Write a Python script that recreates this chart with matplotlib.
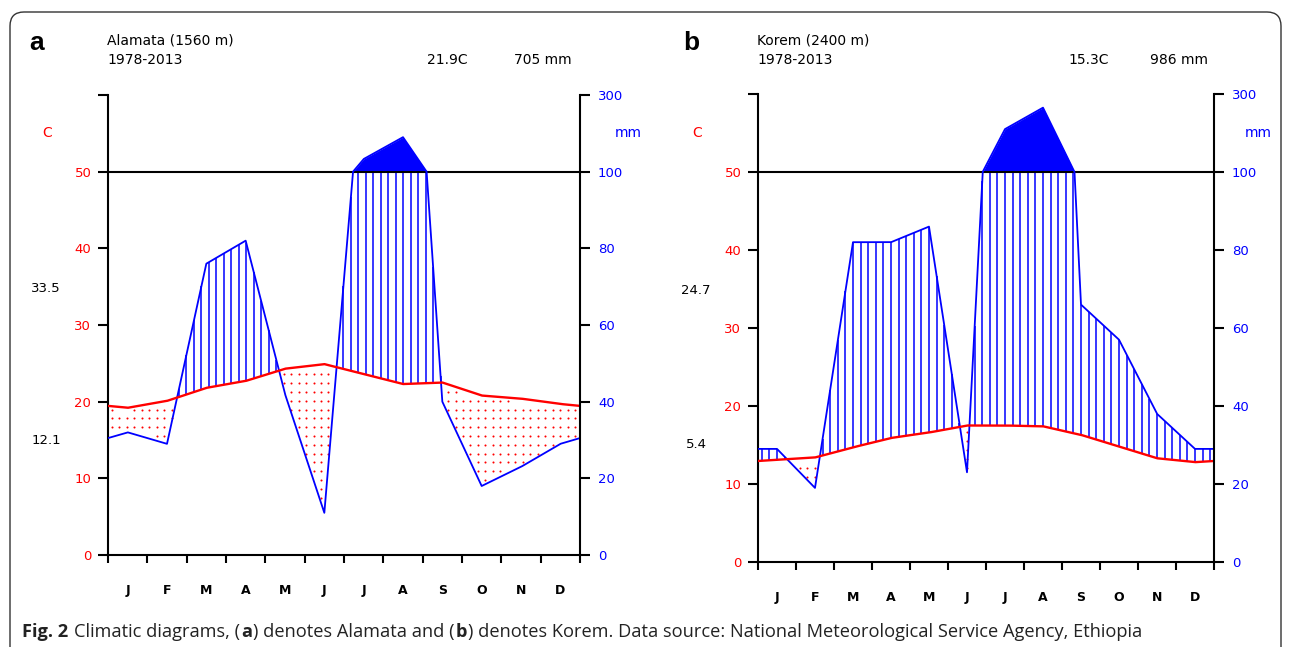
import numpy as np
import matplotlib
matplotlib.use("Agg")
import matplotlib.pyplot as plt
from matplotlib import font_manager
from matplotlib.patches import FancyBboxPatch
from matplotlib.transforms import IdentityTransform

W, H = 1292, 647
RED = "#ff0000"
BLUE = "#0000ff"

months = ["J", "F", "M", "A", "M", "J", "J", "A", "S", "O", "N", "D"]
temp_ticks = [0, 10, 20, 30, 40, 50, 60]
temp_labels = ["0", "10", "20", "30", "40", "50", ""]
prec_labels = ["0", "20", "40", "60", "80", "100", "300"]

# Alamata, monthly mean temperature (C) and precipitation (mm)
temp_a = [19.2, 20.1, 21.8, 22.7, 24.3, 24.9, 23.6, 22.3, 22.5, 20.8, 20.4, 19.7]
prec_a = [32, 29, 76, 82, 42, 11, 133, 190, 40, 18, 23, 29]
head_a = ["a", "Alamata (1560 m)", "1978-2013", "21.9C", "705 mm"]
side_a = ["33.5", "12.1"]

# Korem
temp_b = [13.1, 13.4, 14.7, 15.9, 16.6, 17.5, 17.5, 17.4, 16.3, 14.8, 13.3, 12.8]
prec_b = [29, 19, 82, 82, 86, 23, 210, 265, 66, 57, 38, 29]
head_b = ["b", "Korem (2400 m)", "1978-2013", "15.3C", "986 mm"]
side_b = ["24.7", "5.4"]


def to_axis(p):
    # Walter-Lieth scale: 1 C = 2 mm up to 100 mm, 1 C = 20 mm above
    p = np.asarray(p, float)
    return np.where(p <= 100, p / 2.0, 50 + (p - 100) / 20.0)


def px_rect(l, r, t, b):
    return [l / W, 1 - b / H, (r - l) / W, (b - t) / H]


def diagram(ax, temp, prec, step, dy):
    xm = np.arange(12) + 0.5
    xe = np.r_[-0.5, xm, 12.5]
    te = np.r_[temp[-1], temp, temp[0]]
    pe = np.r_[prec[-1], prec, prec[0]]
    xd = np.linspace(0, 12, 2401)
    td = np.interp(xd, xe, te)
    pd_ = to_axis(np.interp(xd, xe, pe))

    # humid period: vertical hatching
    xh = np.arange(step / 2, 12, step)
    th = np.interp(xh, xd, td)
    ph = np.interp(xh, xd, pd_)
    wet = ph > th
    ax.vlines(xh[wet], th[wet], np.minimum(ph[wet], 50), color=BLUE, lw=1.1)

    # > 100 mm: solid
    ax.fill_between(xd, 50, pd_, where=pd_ > 50, color=BLUE, lw=0, interpolate=True)

    # dry period: red dots
    gx, gy = np.meshgrid(xh, np.arange(dy / 2, 50, dy))
    tg = np.interp(gx, xd, td)
    pg = np.interp(gx, xd, pd_)
    dry = (gy < tg - 0.35) & (gy > pg + 0.35)
    ax.scatter(gx[dry], gy[dry], s=2.2, color=RED, lw=0, zorder=3)

    ax.axhline(50, color="black", lw=1.5, zorder=2)
    ax.plot(xd, pd_, color=BLUE, lw=1.3, zorder=4)
    ax.plot(xd, td, color=RED, lw=1.7, zorder=5)

    ax.set_xlim(0, 12)
    ax.set_ylim(0, 60)
    for s in ["top", "right"]:
        ax.spines[s].set_visible(False)
    for s in ["left", "bottom"]:
        ax.spines[s].set_linewidth(1.5)
    ax.set_yticks(temp_ticks)
    ax.set_yticklabels(temp_labels)
    ax.tick_params(axis="y", direction="out", length=7, width=1.5,
                   labelcolor=RED, labelsize=9.5, pad=5)
    ax.set_xticks(np.arange(13))
    ax.set_xticklabels([])
    ax.set_xticks(xm, minor=True)
    ax.set_xticklabels(months, minor=True, fontsize=9, fontweight="bold")
    ax.tick_params(axis="x", which="major", direction="out", length=6, width=1.5)
    ax.tick_params(axis="x", which="minor", length=0, pad=21)

    ax2 = ax.twinx()
    ax2.set_ylim(0, 60)
    for s in ["top", "left", "bottom"]:
        ax2.spines[s].set_visible(False)
    ax2.spines["right"].set_linewidth(1.5)
    ax2.set_yticks(temp_ticks)
    ax2.set_yticklabels(prec_labels)
    ax2.tick_params(axis="y", direction="out", length=7, width=1.5,
                    labelcolor=BLUE, labelsize=9.5, pad=6)
    return ax2


fig = plt.figure(figsize=(W / 100, H / 100), dpi=100)

panels = [
    (px_rect(108, 580, 95, 555), temp_a, prec_a, head_a, side_a, 0.19, 1.15,
     [29, 107, 107, 427, 514], 48),
    (px_rect(758, 1214, 94, 562), temp_b, prec_b, head_b, side_b, 0.2, 1.15,
     [683, 757, 757, 1068, 1150], 44),
]

for rect, temp, prec, head, side, step, dy, hx, mm_off in panels:
    ax = fig.add_axes(rect)
    ax2 = diagram(ax, temp, prec, step, dy)
    ax.annotate("C", xy=(0, 0.917), xycoords="axes fraction", xytext=(-61 * 0.72, 0),
                textcoords="offset points", ha="center", va="center", color=RED, fontsize=10)
    ax2.annotate("mm", xy=(1, 0.917), xycoords="axes fraction", xytext=(mm_off * 0.72, 0),
                 textcoords="offset points", ha="center", va="center", color=BLUE, fontsize=10)
    ax.annotate(side[0], xy=(0, 0.58), xycoords="axes fraction", xytext=(-62 * 0.72, 0),
                textcoords="offset points", ha="center", va="center", fontsize=9.5)
    ax.annotate(side[1], xy=(0, 0.25), xycoords="axes fraction", xytext=(-62 * 0.72, 0),
                textcoords="offset points", ha="center", va="center", fontsize=9.5)
    fig.text(hx[0] / W, 1 - 43 / H, head[0], fontsize=19, fontweight="bold",
             family=["Liberation Sans", "DejaVu Sans"], ha="left", va="center")
    fig.text(hx[1] / W, 1 - 41 / H, head[1], fontsize=10, ha="left", va="center")
    fig.text(hx[2] / W, 1 - 60 / H, head[2], fontsize=10, ha="left", va="center")
    fig.text(hx[3] / W, 1 - 60 / H, head[3], fontsize=10, ha="left", va="center")
    fig.text(hx[4] / W, 1 - 60 / H, head[4], fontsize=10, ha="left", va="center")

# rounded frame
frame = FancyBboxPatch((10, -30), 1271, 665, boxstyle="round,pad=0,rounding_size=14",
                       transform=IdentityTransform(), fill=False, lw=1.0, edgecolor="#333333")
fig.add_artist(frame)

# caption with bold parts
names = {f.name for f in font_manager.fontManager.ttflist}
cap_font = "Liberation Sans Narrow" if "Liberation Sans Narrow" in names else "Open Sans"
cap_parts = [("Fig. 2", "bold", False), ("Climatic diagrams, (", "normal", True),
             ("a", "bold", False), (") denotes Alamata and (", "normal", False),
             ("b", "bold", False),
             (") denotes Korem. Data source: National Meteorological Service Agency, Ethiopia",
              "normal", False)]
renderer = fig.canvas.get_renderer()


def draw_caption(size):
    arts = []
    probe1 = fig.text(0, 0, "a a", fontsize=size, family=cap_font)
    probe2 = fig.text(0, 0, "aa", fontsize=size, family=cap_font)
    gap = probe1.get_window_extent(renderer).width - probe2.get_window_extent(renderer).width
    probe1.remove()
    probe2.remove()
    x = 22.0
    for s, w, sp in cap_parts:
        if sp:
            x += gap
        t = fig.text(x / W, 1 - 637 / H, s, fontsize=size, fontweight=w, family=cap_font,
                     color="#222222", ha="left", va="baseline")
        x += t.get_window_extent(renderer).width + 1
        arts.append(t)
    return arts, x


arts, end = draw_caption(12)
for t in arts:
    t.remove()
draw_caption(12 * (1140 - 22) / (end - 22))

fig.savefig("out.png", dpi=100)
